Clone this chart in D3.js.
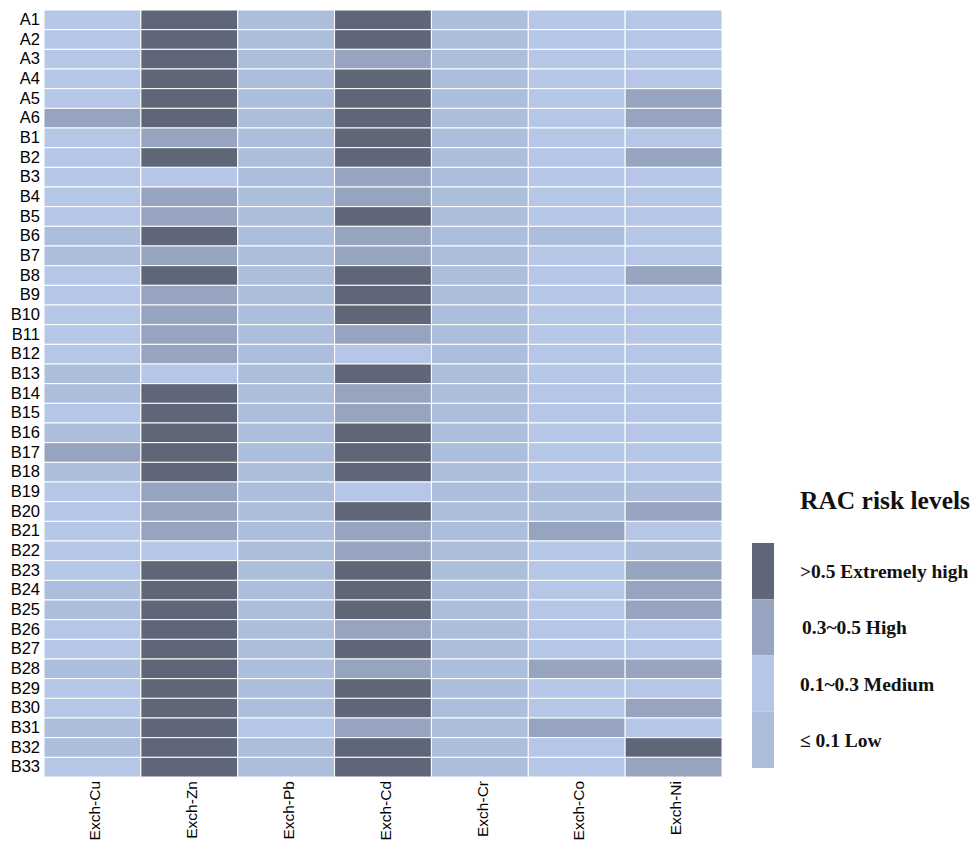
<!DOCTYPE html>
<html>
<head>
<meta charset="utf-8">
<script src="https://cdn.jsdelivr.net/npm/d3@7"></script>
<style>
  body { margin: 0; background: #fff; }
  #chart { width: 976px; height: 841px; }
</style>
</head>
<body>
<div id="chart"></div>
<script>
// Samples (rows) and metals (columns)
const samples = ['A1','A2','A3','A4','A5','A6',
  'B1','B2','B3','B4','B5','B6','B7','B8','B9','B10','B11','B12','B13','B14','B15','B16',
  'B17','B18','B19','B20','B21','B22','B23','B24','B25','B26','B27','B28','B29','B30','B31','B32','B33'];
const metals = ['Exch-Cu','Exch-Zn','Exch-Pb','Exch-Cd','Exch-Cr','Exch-Co','Exch-Ni'];

// RAC risk level per sample: 1 = low, 2 = medium, 3 = high, 4 = extremely high
const cu = [2,2,2,2,2,3, 2,2,2,2,2,1,1,2,2,2,2,2,1,1,2,1,3,1,2,2,2,2,2,1,1,2,2,1,2,2,1,1,2];
const zn = [4,4,4,4,4,4, 3,4,2,3,3,4,3,4,3,3,3,3,2,4,4,4,4,4,3,3,3,2,4,4,4,4,4,4,4,4,4,4,4];
const pb = [1,1,1,1,1,1, 1,1,1,1,1,1,1,1,1,1,1,1,1,1,1,1,1,1,1,1,1,1,1,1,1,1,1,1,1,1,2,1,1];
const cd = [4,4,3,4,4,4, 4,4,3,3,4,3,3,4,4,4,3,2,4,3,3,4,4,4,2,4,3,3,4,4,4,3,4,3,4,4,3,4,4];
const cr = [1,1,1,1,1,1, 1,1,1,1,1,1,1,1,1,1,1,1,1,1,1,1,1,1,1,1,1,1,1,1,1,1,1,1,1,1,1,1,1];
const co = [2,2,2,2,2,2, 2,2,2,2,2,1,2,2,2,2,2,2,2,2,2,2,2,2,1,1,3,2,2,2,2,2,2,3,2,2,3,2,2];
const ni = [2,2,2,2,3,3, 2,3,2,2,2,2,2,3,2,2,2,2,2,2,2,2,2,2,1,3,2,1,3,3,3,2,2,3,2,3,2,4,3];

const levels = [4, 3, 2, 1];
const levelLabels = ['>0.5 Extremely high', '0.3~0.5 High', '0.1~0.3 Medium', '\u2264 0.1 Low'];
const levelColors = ['#5e6677', '#97a4bf', '#b5c6e6', '#adbedd'];

const series = [cu, zn, pb, cd, cr, co, ni];

const width = 976, height = 841;
const margin = { top: 10, left: 44 };
const gridW = 678, gridH = 767;

const svg = d3.select('#chart').append('svg')
    .attr('width', width)
    .attr('height', height);

const x = d3.scaleBand().domain(metals).range([margin.left, margin.left + gridW]);
const y = d3.scaleBand().domain(samples).range([margin.top, margin.top + gridH]);
const color = d3.scaleOrdinal().domain(levels).range(levelColors);

// flatten into cells
const cells = [];
metals.forEach((m, j) => {
    samples.forEach((s, i) => cells.push({ metal: m, sample: s, level: series[j][i] }));
});

svg.append('g').selectAll('rect')
    .data(cells)
    .enter().append('rect')
    .attr('x', d => x(d.metal))
    .attr('y', d => y(d.sample))
    .attr('width', x.bandwidth())
    .attr('height', y.bandwidth())
    .attr('fill', d => color(d.level))
    .attr('stroke', '#ffffff')
    .attr('stroke-width', 1);

// row labels
const yAxis = svg.append('g')
    .attr('transform', `translate(${margin.left},0)`)
    .call(d3.axisLeft(y).tickSize(0).tickPadding(4));
yAxis.select('.domain').remove();
yAxis.selectAll('text')
    .attr('font-family', 'Liberation Sans, Arial, sans-serif')
    .attr('font-size', '16.5px')
    .attr('fill', '#000');

// column labels, rotated
const xAxis = svg.append('g')
    .attr('transform', `translate(0,${margin.top + gridH})`)
    .call(d3.axisBottom(x).tickSize(0));
xAxis.select('.domain').remove();
xAxis.selectAll('text')
    .attr('font-family', 'Liberation Sans, Arial, sans-serif')
    .attr('font-size', '15.5px')
    .attr('fill', '#000')
    .attr('text-anchor', 'end')
    .attr('transform', 'rotate(-90)')
    .attr('x', -4)
    .attr('y', 0)
    .attr('dy', '0.5em');

// legend
const legend = svg.append('g');
legend.append('text')
    .attr('x', 800)
    .attr('y', 509)
    .attr('font-family', 'Liberation Serif, Times New Roman, serif')
    .attr('font-weight', 'bold')
    .attr('font-size', '25.5px')
    .attr('fill', '#111')
    .text('RAC risk levels');

const ly = d3.scaleBand().domain(levels).range([543, 768]);

legend.selectAll('rect')
    .data(levels)
    .enter().append('rect')
    .attr('x', 752)
    .attr('y', d => ly(d))
    .attr('width', 22)
    .attr('height', ly.bandwidth())
    .attr('fill', d => color(d));

legend.selectAll('text.lab')
    .data(levels)
    .enter().append('text')
    .attr('class', 'lab')
    .attr('x', (d, i) => i === 1 ? 802 : 800)
    .attr('y', d => ly(d) + ly.bandwidth() / 2 + 7)
    .attr('font-family', 'Liberation Serif, Times New Roman, serif')
    .attr('font-weight', 'bold')
    .attr('font-size', '19.5px')
    .attr('fill', '#111')
    .text((d, i) => levelLabels[i]);
</script>
</body>
</html>
